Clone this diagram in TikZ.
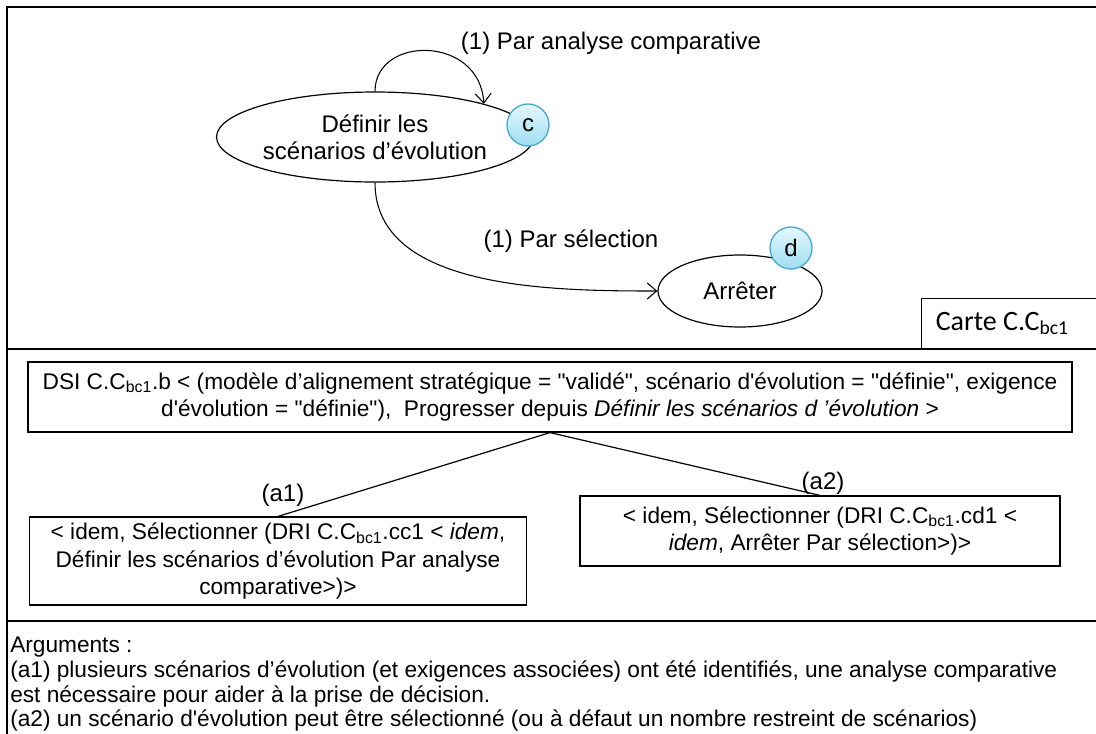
\documentclass[tikz,border=0pt]{standalone}
\usepackage{fontspec}
\setmainfont{Liberation Sans}
\newfontfamily\carlito{Carlito}
\usetikzlibrary{arrows.meta, positioning, shapes.geometric, calc}
\definecolor{badgetop}{rgb}{0.90,0.97,0.99}
\definecolor{badgebottom}{rgb}{0.62,0.87,0.95}
\definecolor{badgeline}{rgb}{0.29,0.67,0.80}
\newcommand{\dq}{\textquotedbl}
\newcommand{\sq}{\textquotesingle}

\begin{document}
\begin{tikzpicture}[
		x=0.75pt, y=-0.75pt,
		every node/.style={font=\fontsize{18}{21}\selectfont},
		etat/.style={draw, ellipse, line width=0.9pt, inner sep=0pt, align=center},
		badge/.style={circle, draw=badgeline, line width=1pt, top color=badgetop, bottom color=badgebottom, minimum size=31.5pt, inner sep=0pt},
		textbox/.style={draw, line width=0.9pt, align=center, inner sep=0pt, font=\fontsize{17}{20.5}\selectfont},
		flow/.style={-{Straight Barb[length=7pt, width=12pt]}, line width=0.8pt},
		sep/.style={line width=2pt}
	]
	\useasboundingbox (0,0) rectangle (1096,733);

	% cadre
	\draw[sep] (1100,7) -- (7,7) -- (7,740);
	\draw[sep] (7,349) -- (1100,349);
	\draw[sep] (7,621) -- (1100,621);

	% carte
	\node[etat, minimum width=237pt, minimum height=67.5pt] (def) at (375,137) {D\'efinir les\\[-1pt]sc\'enarios d’\'evolution};
	\node[etat, minimum width=123pt, minimum height=54pt] (arr) at (740,291) {Arr\^eter};
	\node[badge] (c) at (528,125) {c};
	\node[badge] (d) at (791,248) {d};
	\draw[flow] (def.north) .. controls (375,35) and (480,35) .. (def.17);
	\draw[flow] (def.south) to[out=-90, in=180, looseness=0.9] (arr.west);
	\node (lab1) at (611,43) {(1) Par analyse comparative};
	\node (lab2) at (571,241) {(1) Par s\'election};
	\node[draw, line width=0.9pt, anchor=south west, minimum width=135pt, minimum height=37.5pt, inner sep=0pt, font=\carlito\fontsize{21}{24}\selectfont] (carte) at (921,349) {\hspace*{-14pt}Carte C.C\textsubscript{bc1}};

	% directives
	\node[textbox, minimum width=783pt, minimum height=52.5pt] (dsi) at (550,397) {DSI C.C\textsubscript{bc1}.b < (mod\`ele d’alignement strat\'egique = \dq valid\'e\dq, sc\'enario d\sq\'evolution = \dq d\'efinie\dq, exigence\\d\sq\'evolution = \dq d\'efinie\dq),~~Progresser depuis \textit{D\'efinir les sc\'enarios d ’\'evolution} >};
	\node[textbox, minimum width=373pt, minimum height=66pt] (a1box) at (278,561) {< idem, S\'electionner (DRI C.C\textsubscript{bc1}.cc1 < \textit{idem},\\D\'efinir les sc\'enarios d’\'evolution Par analyse\\comparative>)>};
	\node[textbox, minimum width=360pt, minimum height=52.5pt] (a2box) at (820,531) {< idem, S\'electionner (DRI C.C\textsubscript{bc1}.cd1 <\\\textit{idem}, Arr\^eter Par s\'election>)>};
	\draw[line width=0.9pt] (dsi.south) -- (a1box.north);
	\draw[line width=0.9pt] (dsi.south) -- (a2box.north);
	\node (l1) at (283,495) {(a1)};
	\node (l2) at (823,483) {(a2)};

	% arguments
	\node[anchor=north west, align=left, inner sep=0pt, font=\fontsize{17}{18.5}\selectfont] (args) at (10,637) {Arguments :\\(a1) plusieurs sc\'enarios d’\'evolution (et exigences associ\'ees) ont \'et\'e identifi\'es, une analyse comparative\\est n\'ecessaire pour aider \`a la prise de d\'ecision.\\(a2) un sc\'enario d\sq\'evolution peut \^etre s\'electionn\'e (ou \`a d\'efaut un nombre restreint de sc\'enarios)};
\end{tikzpicture}
\end{document}
